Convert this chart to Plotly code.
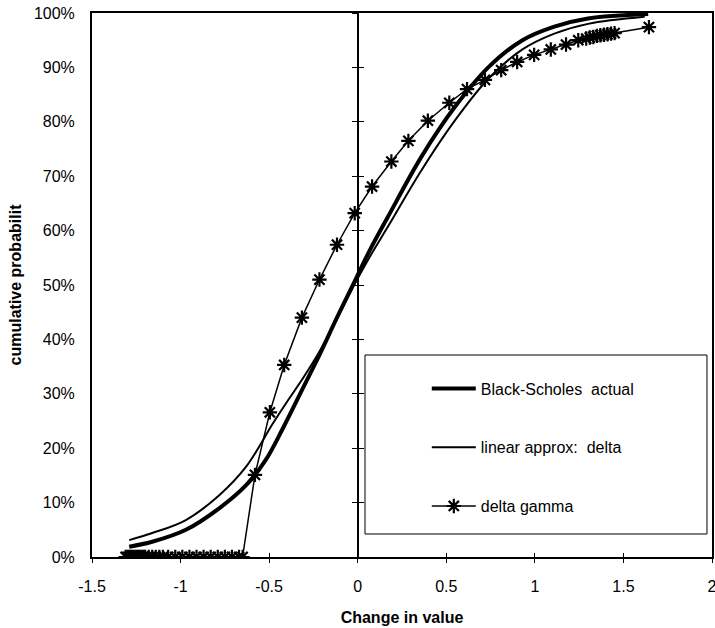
import plotly.graph_objects as go

# Black-Scholes actual change in option value vs cumulative probability
bs_x = [-1.29, -1.16, -0.97, -0.78, -0.63, -0.52, -0.42, -0.31, -0.215, -0.12,
        -0.02, 0.07, 0.17, 0.36, 0.55, 0.74, 0.93, 1.11, 1.30, 1.64]
bs_y = [0.019, 0.028, 0.050, 0.090, 0.132, 0.178, 0.238, 0.310, 0.372, 0.438,
        0.505, 0.565, 0.625, 0.736, 0.828, 0.901, 0.950, 0.975, 0.990, 0.998]

# Linear (delta) approximation
lin_x = [-1.29, -1.16, -0.97, -0.78, -0.63, -0.48, -0.40, -0.31, -0.215, -0.12,
         -0.02, 0.07, 0.17, 0.36, 0.55, 0.74, 0.93, 1.11, 1.30, 1.62]
lin_y = [0.031, 0.044, 0.068, 0.114, 0.166, 0.245, 0.285, 0.328, 0.378, 0.436,
         0.500, 0.553, 0.607, 0.711, 0.803, 0.880, 0.933, 0.962, 0.980, 0.993]

# Delta-gamma approximation
dg_x = [-1.31, -1.30, -1.29, -1.28, -1.27, -1.26, -1.25, -1.24, -1.23, -1.22,
        -1.21, -1.20, -1.18, -1.16, -1.14, -1.12, -1.10, -1.07, -1.03, -0.99,
        -0.95, -0.91, -0.87, -0.83, -0.79, -0.75, -0.71, -0.67, -0.65,
        -0.58, -0.496, -0.415, -0.315, -0.216, -0.117, -0.017, 0.081, 0.19,
        0.286, 0.396, 0.517, 0.617, 0.718, 0.81, 0.90, 0.996, 1.09, 1.176,
        1.245, 1.29, 1.31, 1.33, 1.35, 1.37, 1.39, 1.41, 1.43, 1.45, 1.644]
dg_y = [0.0] * 29 + [
        0.151, 0.266, 0.353, 0.440, 0.510, 0.574, 0.632, 0.681, 0.727,
        0.765, 0.802, 0.835, 0.860, 0.877, 0.895, 0.910, 0.923, 0.933, 0.942,
        0.950, 0.953, 0.955, 0.956, 0.958, 0.959, 0.960, 0.961, 0.962, 0.963, 0.974]

x_ticks = [-1.5, -1, -0.5, 0, 0.5, 1, 1.5, 2]
x_tick_text = ["-1.5", "-1", "-0.5", "0", "0.5", "1", "1.5", "2"]

FONT = "Arial, 'Liberation Sans', sans-serif"

fig = go.Figure()
fig.add_trace(go.Scatter(x=bs_x, y=bs_y, mode="lines", name="Black-Scholes  actual",
                         line=dict(color="black", width=4, shape="spline"),
                         legendgroup="a"))
fig.add_trace(go.Scatter(x=lin_x, y=lin_y, mode="lines", name="linear approx:  delta",
                         line=dict(color="black", width=2, shape="spline"),
                         legendgroup="b"))
fig.add_trace(go.Scatter(x=dg_x, y=dg_y, mode="lines+markers", name="delta gamma",
                         line=dict(color="black", width=1.5),
                         marker=dict(symbol="asterisk-open", size=12,
                                     line=dict(color="black", width=2.2)),
                         legendgroup="c"))

# empty traces so the crossing tick axes exist
fig.add_trace(go.Scatter(x=[], y=[], xaxis="x", yaxis="y2", showlegend=False, hoverinfo="skip"))
fig.add_trace(go.Scatter(x=[], y=[], xaxis="x", yaxis="y3", showlegend=False, hoverinfo="skip"))
fig.add_trace(go.Scatter(x=[], y=[], xaxis="x2", yaxis="y", showlegend=False, hoverinfo="skip"))

zero_pos = 1.5 / 3.5

fig.update_layout(
    width=715, height=628,
    margin=dict(l=92, r=3, t=13, b=71, autoexpand=False),
    paper_bgcolor="white", plot_bgcolor="white",
    font=dict(family=FONT, size=16, color="black"),
    showlegend=True,
    legend=dict(x=0.54, y=0.341, xanchor="left", yanchor="top",
                bgcolor="rgba(0,0,0,0)", borderwidth=0,
                tracegroupgap=35, traceorder="grouped", itemwidth=44,
                font=dict(family=FONT, size=16, color="black")),
    xaxis=dict(range=[-1.5, 2], tickvals=x_ticks, ticktext=x_tick_text,
               showgrid=False, zeroline=False, automargin=False,
               ticklabeloverflow="allow",
               showline=True, linecolor="black", linewidth=2, mirror=True,
               ticks="outside", ticklen=4, tickwidth=1, tickcolor="black",
               ticklabelstandoff=10,
               title=dict(text="<b>Change in value</b>", standoff=18,
                          font=dict(family=FONT, size=16))),
    xaxis2=dict(range=[-1.5, 2], tickvals=x_ticks, overlaying="x", anchor="y",
                showgrid=False, zeroline=False, showline=False, automargin=False,
                showticklabels=False, ticks="inside", ticklen=4, tickwidth=1,
                tickcolor="black"),
    yaxis=dict(range=[0, 1], dtick=0.1, tickformat=".0%",
               showgrid=False, zeroline=False, automargin=False,
               ticklabeloverflow="allow",
               showline=True, linecolor="black", linewidth=2, mirror=True,
               ticks="", ticklabelstandoff=12,
               title=dict(text="<b>cumulative probabilit</b>", standoff=8,
                          font=dict(family=FONT, size=16))),
    yaxis2=dict(range=[0, 1], dtick=0.1, overlaying="y", anchor="free",
                position=zero_pos, side="left", automargin=False,
                showgrid=False, zeroline=False, showline=True,
                linecolor="black", linewidth=1.5,
                showticklabels=False, ticks="outside", ticklen=5, tickwidth=1,
                tickcolor="black"),
    yaxis3=dict(range=[0, 1], dtick=0.1, overlaying="y", anchor="free",
                position=zero_pos, side="left", automargin=False,
                showgrid=False, zeroline=False, showline=False,
                showticklabels=False, ticks="inside", ticklen=5, tickwidth=1,
                tickcolor="black"),
    shapes=[dict(type="rect", xref="paper", yref="paper",
                 x0=0.4403, x1=0.9919, y0=0.0423, y1=0.3713,
                 line=dict(color="black", width=1), fillcolor="white",
                 layer="above")],
)

fig.write_html("out.html")
